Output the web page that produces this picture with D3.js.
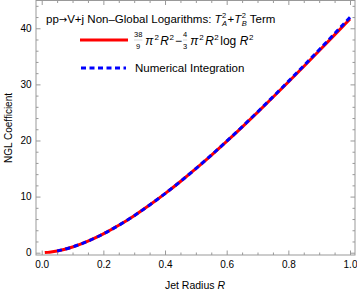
<!DOCTYPE html>
<html><head><meta charset="utf-8">
<script src="https://cdn.jsdelivr.net/npm/d3@7"></script>
<style>
body{margin:0;background:#fff}
svg{display:block}
text{font-family:"Liberation Sans",Arial,sans-serif;fill:#000;white-space:pre}
</style>
</head><body>
<svg id="chart" width="357" height="292"></svg>
<script>
// ---- data ----
const formulaR = [0.01,0.02,0.03,0.05,0.1,0.15,0.2,0.25,0.3,0.35,0.4,0.45,0.5,0.55,0.6,0.65,0.7,0.75,0.8,0.85,0.9,0.95,1.0];
const formulaValues = [0.016,0.058,0.121,0.301,1.023,2.061,3.361,4.885,6.602,8.489,10.526,12.694,14.979,17.365,19.842,22.396,25.019,27.699,30.428,33.198,36.000,38.827,41.667];
const numericalR = [0.05,0.1,0.15,0.2,0.25,0.3,0.35,0.4,0.45,0.5,0.55,0.6,0.65,0.7,0.75,0.8,0.85,0.9,0.95,1.0];
const numericalValues = [0.30,1.02,2.06,3.36,4.88,6.60,8.49,10.53,12.70,14.99,17.38,19.87,22.44,25.08,27.78,30.53,33.33,36.17,39.05,41.96];
const xTicks = [0,0.2,0.4,0.6,0.8,1.0];
const xTickLabels = ["0.0","0.2","0.4","0.6","0.8","1.0"];
const xMinorTicks = [0.05,0.1,0.15,0.25,0.3,0.35,0.45,0.5,0.55,0.65,0.7,0.75,0.85,0.9,0.95];
const yTicks = [0,10,20,30,40];
const yTickLabels = ["0","10","20","30","40"];
const yMinorTicks = [2,4,6,8,12,14,16,18,22,24,26,28,32,34,36,38,42,44];
const xLabel = "Jet Radius ";
const yLabel = "NGL Coefficient";
const titleParts = ["pp", "\u2192", "V+j Non\u2013Global Logarithms: "];
const legendNumerical = "Numerical Integration";

// ---- layout ----
const L = 36, R = 355, T = 0.5, B = 255;
const svg = d3.select("#chart");
const x = d3.scaleLinear().domain([-0.0185, 1.0162]).range([L, R]);
const y = d3.scaleLinear().domain([-0.41, 44.95]).range([B, T]);
const frameColor = "#999";

svg.append("rect").attr("x", L).attr("y", T).attr("width", R - L).attr("height", B - T)
  .attr("fill", "none").attr("stroke", frameColor).attr("stroke-width", 1);

function styleAxis(g) {
  g.select(".domain").remove();
  g.selectAll("line").attr("stroke", frameColor);
  g.selectAll("text").attr("font-size", 10).attr("fill", "#000");
}
svg.append("g").attr("transform", `translate(0,${B})`)
  .call(d3.axisBottom(x).tickValues(xTicks).tickFormat((d, i) => xTickLabels[i]).tickSize(-4.5).tickPadding(5.5))
  .call(styleAxis);
svg.append("g").attr("transform", `translate(0,${B})`)
  .call(d3.axisBottom(x).tickValues(xMinorTicks).tickFormat("").tickSize(-2.5)).call(styleAxis);
svg.append("g").attr("transform", `translate(0,${T})`)
  .call(d3.axisTop(x).tickValues(xTicks).tickFormat("").tickSize(-4.5)).call(styleAxis);
svg.append("g").attr("transform", `translate(0,${T})`)
  .call(d3.axisTop(x).tickValues(xMinorTicks).tickFormat("").tickSize(-2.5)).call(styleAxis);
svg.append("g").attr("transform", `translate(${L},0)`)
  .call(d3.axisLeft(y).tickValues(yTicks).tickFormat((d, i) => yTickLabels[i]).tickSize(-4.5).tickPadding(4.5))
  .call(styleAxis);
svg.append("g").attr("transform", `translate(${L},0)`)
  .call(d3.axisLeft(y).tickValues(yMinorTicks).tickFormat("").tickSize(-2.5)).call(styleAxis);
svg.append("g").attr("transform", `translate(${R},0)`)
  .call(d3.axisRight(y).tickValues(yTicks).tickFormat("").tickSize(-4.5)).call(styleAxis);
svg.append("g").attr("transform", `translate(${R},0)`)
  .call(d3.axisRight(y).tickValues(yMinorTicks).tickFormat("").tickSize(-2.5)).call(styleAxis);

const xl = svg.append("text").attr("x", 195).attr("y", 288.5).attr("text-anchor", "middle").attr("font-size", 10.5);
xl.append("tspan").text(xLabel);
xl.append("tspan").attr("font-style", "italic").text("R");
svg.append("text").attr("transform", "translate(11.5,128) rotate(-90)").attr("text-anchor", "middle")
  .attr("font-size", 10).text(yLabel);

svg.append("clipPath").attr("id", "clip").append("rect")
  .attr("x", L).attr("y", T).attr("width", R - L).attr("height", B - T);
const line = d3.line().x(d => x(d[0])).y(d => y(d[1])).curve(d3.curveMonotoneX);
svg.append("path").datum(formulaR.map((r, i) => [r, formulaValues[i]]))
  .attr("d", line).attr("fill", "none").attr("stroke", "#ff0000").attr("stroke-width", 3)
  .attr("clip-path", "url(#clip)");
svg.append("path").datum(numericalR.map((r, i) => [r, numericalValues[i]]))
  .attr("d", line).attr("fill", "none").attr("stroke", "#0000ff").attr("stroke-width", 3)
  .attr("stroke-dasharray", "5,3.5").attr("clip-path", "url(#clip)");

function seq(g, x0, y0, parts) {
  let cx = x0;
  parts.forEach(p => {
    if (p.frac) {
      const fs = p.fs || 7.5;
      const n = g.append("text").attr("x", cx).attr("y", y0 - 8).attr("font-size", fs).attr("text-anchor", "middle").text(p.frac[0]);
      const d = g.append("text").attr("x", cx).attr("y", y0 + 4.5).attr("font-size", fs).attr("text-anchor", "middle").text(p.frac[1]);
      const w = Math.max(n.node().getComputedTextLength(), d.node().getComputedTextLength());
      n.attr("x", cx + w / 2); d.attr("x", cx + w / 2);
      g.append("line").attr("x1", cx).attr("x2", cx + w).attr("y1", y0 - 4.5).attr("y2", y0 - 4.5)
        .attr("stroke", "#aaa").attr("stroke-width", 0.5);
      cx += w + 3;
      return;
    }
    const t = g.append("text").attr("x", cx).attr("y", y0 + (p.dy || 0)).attr("font-size", p.size || 12)
      .attr("font-style", p.italic ? "italic" : null).text(p.t);
    if (p.family) t.style("font-family", p.family);
    const w = t.node().getComputedTextLength();
    if (!p.hold) cx += w + (p.after || 0);
  });
  return cx;
}

const tg = svg.append("g");
seq(tg, 46, 23, [
  {t: titleParts[0], size: 11.5},
  {t: titleParts[1], size: 10, family: "DejaVu Sans"},
  {t: titleParts[2], size: 11.5},
  {t: "T", italic: true, after: 0.5, size: 11.5},
  {t: "2", size: 7.5, dy: -5, hold: true},
  {t: "A", size: 7.5, italic: true, dy: 3, after: 0.5},
  {t: "+", size: 11.5},
  {t: "T", italic: true, after: 0.5, size: 11.5},
  {t: "2", size: 7.5, dy: -5, hold: true},
  {t: "B", size: 7.5, italic: true, dy: 3},
  {t: " Term", size: 11.5}
]);

const lg = svg.append("g");
lg.append("line").attr("x1", 80).attr("x2", 128).attr("y1", 40).attr("y2", 40)
  .attr("stroke", "#ff0000").attr("stroke-width", 3);
lg.append("line").attr("x1", 81).attr("x2", 126).attr("y1", 68).attr("y2", 68)
  .attr("stroke", "#0000ff").attr("stroke-width", 3).attr("stroke-dasharray", "5,3.5");
seq(lg, 134, 44.5, [
  {frac: ["38", "9"]},
  {t: "\u03c0", italic: true, after: 1},
  {t: "2", size: 8, dy: -5, after: 1.5},
  {t: "R", italic: true, after: 0.5},
  {t: "2", size: 8, dy: -5, after: 1},
  {t: "\u2212", after: 1},
  {frac: ["4", "3"]},
  {t: "\u03c0", italic: true, after: 1},
  {t: "2", size: 8, dy: -5, after: 1.5},
  {t: "R", italic: true, after: 0.5},
  {t: "2", size: 8, dy: -5, after: 1.5},
  {t: "log", after: 3.5},
  {t: "R", italic: true, after: 0.5},
  {t: "2", size: 8, dy: -5}
]);
lg.append("text").attr("x", 135).attr("y", 72).attr("font-size", 11.5).text(legendNumerical);
</script>
</body></html>
